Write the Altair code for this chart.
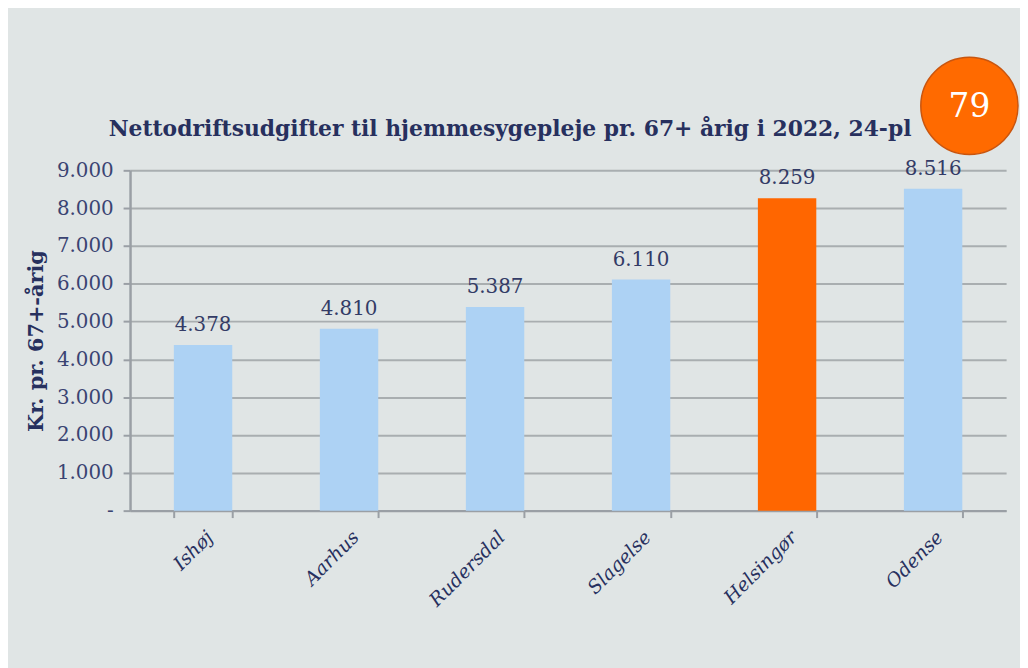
import altair as alt
import pandas as pd

kommuner = ["Ishøj", "Aarhus", "Rudersdal", "Slagelse", "Helsingør", "Odense"]
udgifter = [4378, 4810, 5387, 6110, 8259, 8516]
etiketter = ["4.378", "4.810", "5.387", "6.110", "8.259", "8.516"]
farver = ["#ADD2F4", "#ADD2F4", "#ADD2F4", "#ADD2F4", "#FF6600", "#ADD2F4"]
y_ticks = [0, 1000, 2000, 3000, 4000, 5000, 6000, 7000, 8000, 9000]
placering = ["79"]
titel = ["Nettodriftsudgifter til hjemmesygepleje pr. 67+ årig i 2022, 24-pl"]

df = pd.DataFrame({"kommune": kommuner, "udgift": udgifter, "etiket": etiketter, "farve": farver})

serif = "DejaVu Serif"
navy = "#27305E"
grid = "#A9AEB0"

x = alt.X("kommune:N", sort=kommuner, title=None,
          scale=alt.Scale(paddingInner=0.6, paddingOuter=0.3),
          axis=alt.Axis(labelAngle=-45, labelFont=serif, labelFontStyle="italic",
                        labelFontSize=19, labelColor=navy, labelPadding=10,
                        domainColor="#9A9FA5", domainWidth=2.5,
                        tickColor="#9A9FA5", tickWidth=2, tickSize=7, tickBand="extent"))
y = alt.Y("udgift:Q", title="Kr. pr. 67+-årig",
          scale=alt.Scale(domain=[0, 9000], nice=False),
          axis=alt.Axis(values=y_ticks, tickCount=10, labelOverlap=False,
                        labelExpr="datum.value == 0 ? '-' : replace(format(datum.value, ',d'), ',', '.')",
                        labelFont=serif, labelFontSize=20, labelColor="#3A4372", labelPadding=10,
                        titleFont=serif, titleFontSize=21, titleFontWeight="bold", titleColor=navy,
                        titlePadding=10,
                        grid=True, gridColor=grid, gridWidth=2,
                        domainColor="#9A9FA5", domainWidth=2.5,
                        tickColor="#9A9FA5", tickWidth=2, tickSize=7))

bars = alt.Chart(df).mark_bar().encode(
    x=x, y=y, color=alt.Color("farve:N", scale=None)
)

labels = alt.Chart(df).mark_text(font=serif, fontSize=20, color="#333B66", dy=-10, baseline="bottom").encode(
    x=alt.X("kommune:N", sort=kommuner),
    y=alt.Y("udgift:Q"),
    text="etiket:N",
)

title_df = pd.DataFrame({"titel": titel})
title_mark = alt.Chart(title_df).mark_text(
    font=serif, fontSize=22, fontWeight="bold", color=navy, baseline="alphabetic", align="center"
).encode(x=alt.value(383), y=alt.value(-35), text="titel:N")

badge_df = pd.DataFrame({"rank": placering})
badge = alt.Chart(badge_df).mark_point(
    shape="circle", filled=True, size=9600, color="#FF6A00", opacity=1,
    stroke="#C9550E", strokeWidth=1.5
).encode(x=alt.value(846), y=alt.value(-65))
badge_text = alt.Chart(badge_df).mark_text(
    font=serif, fontSize=33, color="white", baseline="middle"
).encode(x=alt.value(846), y=alt.value(-64), text="rank:N")

chart = alt.layer(bars, labels, title_mark, badge, badge_text).properties(
    width=883, height=343,
    background="#E0E5E5",
    padding={"left": 123, "top": 161, "right": 14, "bottom": 156},
    autosize=alt.AutoSizeParams(type="none"),
).configure_view(stroke=None)

chart.save("out.html", embed_options={"renderer": "svg", "actions": False})
